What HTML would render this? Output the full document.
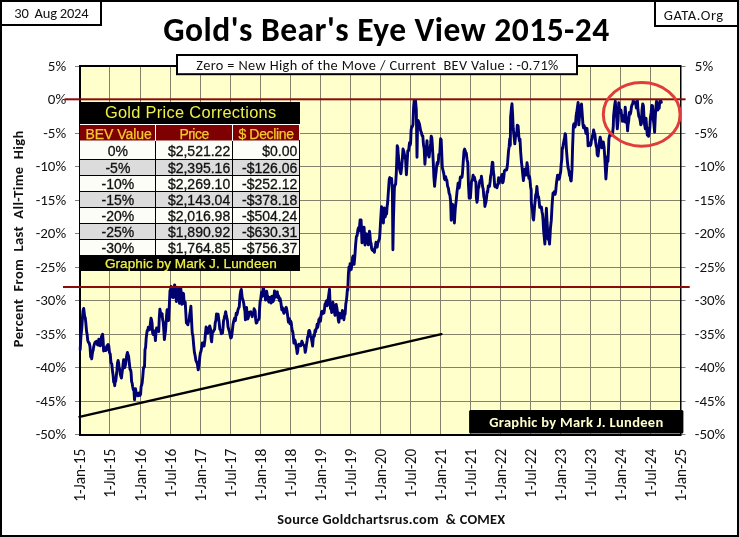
<!DOCTYPE html><html><head><meta charset="utf-8"><title>Gold's Bear's Eye View 2015-24</title><style>html,body{margin:0;padding:0;background:#fff;}svg{display:block;will-change:transform;}text{white-space:pre;}</style></head><body>
<svg width="739" height="537" viewBox="0 0 739 537" shape-rendering="auto">
<rect x="0" y="0" width="739" height="537" fill="#fff"/>
<rect x="80" y="66" width="600.5" height="368.5" fill="#ffffcc"/>
<path d="M109.5 66V434.5M140.5 66V434.5M170.5 66V434.5M200.5 66V434.5M230.5 66V434.5M260.5 66V434.5M290.5 66V434.5M320.5 66V434.5M350.5 66V434.5M380.5 66V434.5M410.5 66V434.5M440.5 66V434.5M470.5 66V434.5M500.5 66V434.5M530.5 66V434.5M560.5 66V434.5M590.5 66V434.5M620.5 66V434.5M650.5 66V434.5M80 99.5H680.5M80 133.5H680.5M80 166.5H680.5M80 200.5H680.5M80 233.5H680.5M80 267.5H680.5M80 300.5H680.5M80 334.5H680.5M80 367.5H680.5M80 401.5H680.5" stroke="#85826c" stroke-width="1" fill="none"/>
<path d="M75 66.5H80M681 66.5H685.5M75 99.5H80M681 99.5H685.5M75 133.5H80M681 133.5H685.5M75 166.5H80M681 166.5H685.5M75 200.5H80M681 200.5H685.5M75 233.5H80M681 233.5H685.5M75 267.5H80M681 267.5H685.5M75 300.5H80M681 300.5H685.5M75 334.5H80M681 334.5H685.5M75 367.5H80M681 367.5H685.5M75 401.5H80M681 401.5H685.5M75 434.5H80M681 434.5H685.5" stroke="#808080" stroke-width="1" fill="none"/>
<rect x="79" y="65" width="602" height="2" fill="#000"/>
<rect x="79" y="65" width="2" height="371" fill="#000"/>
<rect x="79" y="434" width="602" height="2" fill="#000"/>
<rect x="680" y="65" width="1.5" height="371" fill="#000"/>
<text x="66.2" y="70.9" font-family="Carlito, 'Liberation Sans', sans-serif" font-size="15" text-anchor="end" fill="#111" textLength="18.33" lengthAdjust="spacingAndGlyphs">5%</text>
<text x="694.8" y="70.9" font-family="Carlito, 'Liberation Sans', sans-serif" font-size="15" fill="#111" textLength="18.33" lengthAdjust="spacingAndGlyphs">5%</text>
<text x="66.2" y="104.4" font-family="Carlito, 'Liberation Sans', sans-serif" font-size="15" text-anchor="end" fill="#111" textLength="18.33" lengthAdjust="spacingAndGlyphs">0%</text>
<text x="694.8" y="104.4" font-family="Carlito, 'Liberation Sans', sans-serif" font-size="15" fill="#111" textLength="18.33" lengthAdjust="spacingAndGlyphs">0%</text>
<text x="66.2" y="137.9" font-family="Carlito, 'Liberation Sans', sans-serif" font-size="15" text-anchor="end" fill="#111" textLength="22.92" lengthAdjust="spacingAndGlyphs">-5%</text>
<text x="694.8" y="137.9" font-family="Carlito, 'Liberation Sans', sans-serif" font-size="15" fill="#111" textLength="22.92" lengthAdjust="spacingAndGlyphs">-5%</text>
<text x="66.2" y="171.4" font-family="Carlito, 'Liberation Sans', sans-serif" font-size="15" text-anchor="end" fill="#111" textLength="30.53" lengthAdjust="spacingAndGlyphs">-10%</text>
<text x="694.8" y="171.4" font-family="Carlito, 'Liberation Sans', sans-serif" font-size="15" fill="#111" textLength="30.53" lengthAdjust="spacingAndGlyphs">-10%</text>
<text x="66.2" y="204.9" font-family="Carlito, 'Liberation Sans', sans-serif" font-size="15" text-anchor="end" fill="#111" textLength="30.53" lengthAdjust="spacingAndGlyphs">-15%</text>
<text x="694.8" y="204.9" font-family="Carlito, 'Liberation Sans', sans-serif" font-size="15" fill="#111" textLength="30.53" lengthAdjust="spacingAndGlyphs">-15%</text>
<text x="66.2" y="238.4" font-family="Carlito, 'Liberation Sans', sans-serif" font-size="15" text-anchor="end" fill="#111" textLength="30.53" lengthAdjust="spacingAndGlyphs">-20%</text>
<text x="694.8" y="238.4" font-family="Carlito, 'Liberation Sans', sans-serif" font-size="15" fill="#111" textLength="30.53" lengthAdjust="spacingAndGlyphs">-20%</text>
<text x="66.2" y="271.9" font-family="Carlito, 'Liberation Sans', sans-serif" font-size="15" text-anchor="end" fill="#111" textLength="30.53" lengthAdjust="spacingAndGlyphs">-25%</text>
<text x="694.8" y="271.9" font-family="Carlito, 'Liberation Sans', sans-serif" font-size="15" fill="#111" textLength="30.53" lengthAdjust="spacingAndGlyphs">-25%</text>
<text x="66.2" y="305.4" font-family="Carlito, 'Liberation Sans', sans-serif" font-size="15" text-anchor="end" fill="#111" textLength="30.53" lengthAdjust="spacingAndGlyphs">-30%</text>
<text x="694.8" y="305.4" font-family="Carlito, 'Liberation Sans', sans-serif" font-size="15" fill="#111" textLength="30.53" lengthAdjust="spacingAndGlyphs">-30%</text>
<text x="66.2" y="338.9" font-family="Carlito, 'Liberation Sans', sans-serif" font-size="15" text-anchor="end" fill="#111" textLength="30.53" lengthAdjust="spacingAndGlyphs">-35%</text>
<text x="694.8" y="338.9" font-family="Carlito, 'Liberation Sans', sans-serif" font-size="15" fill="#111" textLength="30.53" lengthAdjust="spacingAndGlyphs">-35%</text>
<text x="66.2" y="372.4" font-family="Carlito, 'Liberation Sans', sans-serif" font-size="15" text-anchor="end" fill="#111" textLength="30.53" lengthAdjust="spacingAndGlyphs">-40%</text>
<text x="694.8" y="372.4" font-family="Carlito, 'Liberation Sans', sans-serif" font-size="15" fill="#111" textLength="30.53" lengthAdjust="spacingAndGlyphs">-40%</text>
<text x="66.2" y="405.9" font-family="Carlito, 'Liberation Sans', sans-serif" font-size="15" text-anchor="end" fill="#111" textLength="30.53" lengthAdjust="spacingAndGlyphs">-45%</text>
<text x="694.8" y="405.9" font-family="Carlito, 'Liberation Sans', sans-serif" font-size="15" fill="#111" textLength="30.53" lengthAdjust="spacingAndGlyphs">-45%</text>
<text x="66.2" y="439.4" font-family="Carlito, 'Liberation Sans', sans-serif" font-size="15" text-anchor="end" fill="#111" textLength="30.53" lengthAdjust="spacingAndGlyphs">-50%</text>
<text x="694.8" y="439.4" font-family="Carlito, 'Liberation Sans', sans-serif" font-size="15" fill="#111" textLength="30.53" lengthAdjust="spacingAndGlyphs">-50%</text>
<text transform="translate(85.4,448.8) rotate(-90)" font-family="Carlito, 'Liberation Sans', sans-serif" font-size="15.3" text-anchor="end" fill="#111" textLength="52.87" lengthAdjust="spacingAndGlyphs">1-Jan-15</text>
<text transform="translate(115.4,448.8) rotate(-90)" font-family="Carlito, 'Liberation Sans', sans-serif" font-size="15.3" text-anchor="end" fill="#111" textLength="49.05" lengthAdjust="spacingAndGlyphs">1-Jul-15</text>
<text transform="translate(146.4,448.8) rotate(-90)" font-family="Carlito, 'Liberation Sans', sans-serif" font-size="15.3" text-anchor="end" fill="#111" textLength="52.87" lengthAdjust="spacingAndGlyphs">1-Jan-16</text>
<text transform="translate(176.4,448.8) rotate(-90)" font-family="Carlito, 'Liberation Sans', sans-serif" font-size="15.3" text-anchor="end" fill="#111" textLength="49.05" lengthAdjust="spacingAndGlyphs">1-Jul-16</text>
<text transform="translate(206.4,448.8) rotate(-90)" font-family="Carlito, 'Liberation Sans', sans-serif" font-size="15.3" text-anchor="end" fill="#111" textLength="52.87" lengthAdjust="spacingAndGlyphs">1-Jan-17</text>
<text transform="translate(236.4,448.8) rotate(-90)" font-family="Carlito, 'Liberation Sans', sans-serif" font-size="15.3" text-anchor="end" fill="#111" textLength="49.05" lengthAdjust="spacingAndGlyphs">1-Jul-17</text>
<text transform="translate(266.4,448.8) rotate(-90)" font-family="Carlito, 'Liberation Sans', sans-serif" font-size="15.3" text-anchor="end" fill="#111" textLength="52.87" lengthAdjust="spacingAndGlyphs">1-Jan-18</text>
<text transform="translate(296.4,448.8) rotate(-90)" font-family="Carlito, 'Liberation Sans', sans-serif" font-size="15.3" text-anchor="end" fill="#111" textLength="49.05" lengthAdjust="spacingAndGlyphs">1-Jul-18</text>
<text transform="translate(326.4,448.8) rotate(-90)" font-family="Carlito, 'Liberation Sans', sans-serif" font-size="15.3" text-anchor="end" fill="#111" textLength="52.87" lengthAdjust="spacingAndGlyphs">1-Jan-19</text>
<text transform="translate(356.4,448.8) rotate(-90)" font-family="Carlito, 'Liberation Sans', sans-serif" font-size="15.3" text-anchor="end" fill="#111" textLength="49.05" lengthAdjust="spacingAndGlyphs">1-Jul-19</text>
<text transform="translate(386.4,448.8) rotate(-90)" font-family="Carlito, 'Liberation Sans', sans-serif" font-size="15.3" text-anchor="end" fill="#111" textLength="52.87" lengthAdjust="spacingAndGlyphs">1-Jan-20</text>
<text transform="translate(416.4,448.8) rotate(-90)" font-family="Carlito, 'Liberation Sans', sans-serif" font-size="15.3" text-anchor="end" fill="#111" textLength="49.05" lengthAdjust="spacingAndGlyphs">1-Jul-20</text>
<text transform="translate(446.4,448.8) rotate(-90)" font-family="Carlito, 'Liberation Sans', sans-serif" font-size="15.3" text-anchor="end" fill="#111" textLength="52.87" lengthAdjust="spacingAndGlyphs">1-Jan-21</text>
<text transform="translate(476.4,448.8) rotate(-90)" font-family="Carlito, 'Liberation Sans', sans-serif" font-size="15.3" text-anchor="end" fill="#111" textLength="49.05" lengthAdjust="spacingAndGlyphs">1-Jul-21</text>
<text transform="translate(506.4,448.8) rotate(-90)" font-family="Carlito, 'Liberation Sans', sans-serif" font-size="15.3" text-anchor="end" fill="#111" textLength="52.87" lengthAdjust="spacingAndGlyphs">1-Jan-22</text>
<text transform="translate(536.4,448.8) rotate(-90)" font-family="Carlito, 'Liberation Sans', sans-serif" font-size="15.3" text-anchor="end" fill="#111" textLength="49.05" lengthAdjust="spacingAndGlyphs">1-Jul-22</text>
<text transform="translate(566.4,448.8) rotate(-90)" font-family="Carlito, 'Liberation Sans', sans-serif" font-size="15.3" text-anchor="end" fill="#111" textLength="52.87" lengthAdjust="spacingAndGlyphs">1-Jan-23</text>
<text transform="translate(596.4,448.8) rotate(-90)" font-family="Carlito, 'Liberation Sans', sans-serif" font-size="15.3" text-anchor="end" fill="#111" textLength="49.05" lengthAdjust="spacingAndGlyphs">1-Jul-23</text>
<text transform="translate(626.4,448.8) rotate(-90)" font-family="Carlito, 'Liberation Sans', sans-serif" font-size="15.3" text-anchor="end" fill="#111" textLength="52.87" lengthAdjust="spacingAndGlyphs">1-Jan-24</text>
<text transform="translate(656.4,448.8) rotate(-90)" font-family="Carlito, 'Liberation Sans', sans-serif" font-size="15.3" text-anchor="end" fill="#111" textLength="49.05" lengthAdjust="spacingAndGlyphs">1-Jul-24</text>
<text transform="translate(686.4,448.8) rotate(-90)" font-family="Carlito, 'Liberation Sans', sans-serif" font-size="15.3" text-anchor="end" fill="#111" textLength="52.87" lengthAdjust="spacingAndGlyphs">1-Jan-25</text>
<rect x="79" y="102" width="221" height="22" fill="#000"/>
<rect x="80" y="124" width="220" height="17" fill="#fff"/>
<rect x="80" y="125" width="75" height="15.5" fill="#7f0000"/>
<rect x="156" y="125" width="76" height="15.5" fill="#7f0000"/>
<rect x="233" y="125" width="66" height="15.5" fill="#7f0000"/>
<rect x="80" y="141" width="220" height="18" fill="#fdfdf8"/>
<rect x="81" y="159" width="219" height="1" fill="#000"/>
<rect x="80" y="160" width="220" height="15" fill="#dcdcdc"/>
<rect x="81" y="175" width="219" height="1" fill="#000"/>
<rect x="80" y="176" width="220" height="15" fill="#fdfdf8"/>
<rect x="81" y="191" width="219" height="1" fill="#000"/>
<rect x="80" y="192" width="220" height="15" fill="#dcdcdc"/>
<rect x="81" y="207" width="219" height="1" fill="#000"/>
<rect x="80" y="208" width="220" height="15" fill="#fdfdf8"/>
<rect x="81" y="223" width="219" height="1" fill="#000"/>
<rect x="80" y="224" width="220" height="15" fill="#dcdcdc"/>
<rect x="81" y="239" width="219" height="1" fill="#000"/>
<rect x="80" y="240" width="220" height="15" fill="#fdfdf8"/>
<rect x="79" y="140" width="1" height="116" fill="#000"/>
<rect x="299" y="140" width="1" height="116" fill="#000"/>
<rect x="155" y="141" width="1" height="115" fill="#000"/>
<rect x="232" y="141" width="1" height="115" fill="#000"/>
<rect x="79" y="255" width="221" height="16" fill="#000"/>
<text x="104.9" y="118.4" font-family="'Liberation Sans', Arial, sans-serif" font-size="16.4" fill="#eef04a" textLength="171.3" lengthAdjust="spacing">Gold Price Corrections</text>
<text x="85.4" y="139" font-family="'Liberation Sans', Arial, sans-serif" font-size="14" fill="#f5c830" stroke="#f5c830" stroke-width="0.25" textLength="66.5" lengthAdjust="spacing">BEV Value</text>
<text x="179.4" y="139" font-family="'Liberation Sans', Arial, sans-serif" font-size="14" fill="#f5c830" stroke="#f5c830" stroke-width="0.25" textLength="29.8" lengthAdjust="spacing">Price</text>
<text x="238.4" y="139" font-family="'Liberation Sans', Arial, sans-serif" font-size="14" fill="#f5c830" stroke="#f5c830" stroke-width="0.25" textLength="55.6" lengthAdjust="spacing">$ Decline</text>
<text x="117.9" y="155.7" font-family="'Liberation Sans', Arial, sans-serif" font-size="14" text-anchor="middle" fill="#111" stroke="#111" stroke-width="0.3">0%</text>
<text x="230.2" y="155.7" font-family="'Liberation Sans', Arial, sans-serif" font-size="14" text-anchor="end" fill="#111" stroke="#111" stroke-width="0.3">$2,521.22</text>
<text x="297.3" y="155.7" font-family="'Liberation Sans', Arial, sans-serif" font-size="14" text-anchor="end" fill="#111" stroke="#111" stroke-width="0.3">$0.00</text>
<text x="117.9" y="172.6" font-family="'Liberation Sans', Arial, sans-serif" font-size="14" text-anchor="middle" fill="#111" stroke="#111" stroke-width="0.3">-5%</text>
<text x="230.2" y="172.6" font-family="'Liberation Sans', Arial, sans-serif" font-size="14" text-anchor="end" fill="#111" stroke="#111" stroke-width="0.3">$2,395.16</text>
<text x="297.3" y="172.6" font-family="'Liberation Sans', Arial, sans-serif" font-size="14" text-anchor="end" fill="#111" stroke="#111" stroke-width="0.3">-$126.06</text>
<text x="117.9" y="188.7" font-family="'Liberation Sans', Arial, sans-serif" font-size="14" text-anchor="middle" fill="#111" stroke="#111" stroke-width="0.3">-10%</text>
<text x="230.2" y="188.7" font-family="'Liberation Sans', Arial, sans-serif" font-size="14" text-anchor="end" fill="#111" stroke="#111" stroke-width="0.3">$2,269.10</text>
<text x="297.3" y="188.7" font-family="'Liberation Sans', Arial, sans-serif" font-size="14" text-anchor="end" fill="#111" stroke="#111" stroke-width="0.3">-$252.12</text>
<text x="117.9" y="204.9" font-family="'Liberation Sans', Arial, sans-serif" font-size="14" text-anchor="middle" fill="#111" stroke="#111" stroke-width="0.3">-15%</text>
<text x="230.2" y="204.9" font-family="'Liberation Sans', Arial, sans-serif" font-size="14" text-anchor="end" fill="#111" stroke="#111" stroke-width="0.3">$2,143.04</text>
<text x="297.3" y="204.9" font-family="'Liberation Sans', Arial, sans-serif" font-size="14" text-anchor="end" fill="#111" stroke="#111" stroke-width="0.3">-$378.18</text>
<text x="117.9" y="221.0" font-family="'Liberation Sans', Arial, sans-serif" font-size="14" text-anchor="middle" fill="#111" stroke="#111" stroke-width="0.3">-20%</text>
<text x="230.2" y="221.0" font-family="'Liberation Sans', Arial, sans-serif" font-size="14" text-anchor="end" fill="#111" stroke="#111" stroke-width="0.3">$2,016.98</text>
<text x="297.3" y="221.0" font-family="'Liberation Sans', Arial, sans-serif" font-size="14" text-anchor="end" fill="#111" stroke="#111" stroke-width="0.3">-$504.24</text>
<text x="117.9" y="236.9" font-family="'Liberation Sans', Arial, sans-serif" font-size="14" text-anchor="middle" fill="#111" stroke="#111" stroke-width="0.3">-25%</text>
<text x="230.2" y="236.9" font-family="'Liberation Sans', Arial, sans-serif" font-size="14" text-anchor="end" fill="#111" stroke="#111" stroke-width="0.3">$1,890.92</text>
<text x="297.3" y="236.9" font-family="'Liberation Sans', Arial, sans-serif" font-size="14" text-anchor="end" fill="#111" stroke="#111" stroke-width="0.3">-$630.31</text>
<text x="117.9" y="252.6" font-family="'Liberation Sans', Arial, sans-serif" font-size="14" text-anchor="middle" fill="#111" stroke="#111" stroke-width="0.3">-30%</text>
<text x="230.2" y="252.6" font-family="'Liberation Sans', Arial, sans-serif" font-size="14" text-anchor="end" fill="#111" stroke="#111" stroke-width="0.3">$1,764.85</text>
<text x="297.3" y="252.6" font-family="'Liberation Sans', Arial, sans-serif" font-size="14" text-anchor="end" fill="#111" stroke="#111" stroke-width="0.3">-$756.37</text>
<text x="104.9" y="268.4" font-family="'Liberation Sans', Arial, sans-serif" font-size="13.6" fill="#eef04a" stroke="#eef04a" stroke-width="0.25" textLength="171.8" lengthAdjust="spacing">Graphic by Mark J. Lundeen</text>
<line x1="79.5" y1="416.8" x2="441.4" y2="334.1" stroke="#000" stroke-width="2.4" stroke-linecap="round"/>
<path d="M80.2 349.7 L81.0 335.5 L81.8 328.4 L82.5 316.7 L83.1 310.3 L83.7 308.4 L84.2 312.6 L84.7 316.9 L85.2 317.5 L85.7 321.7 L86.6 331.6 L87.2 334.9 L87.7 340.2 L88.5 342.4 L89.2 342.9 L90.0 346.6 L90.7 356.9 L91.2 356.5 L91.7 358.9 L92.6 351.8 L93.1 350.5 L93.6 347.3 L94.3 344.2 L95.1 342.3 L95.8 341.7 L96.6 341.3 L97.3 344.5 L98.1 345.1 L98.8 339.1 L99.6 342.0 L100.3 345.8 L100.9 343.2 L101.5 336.4 L102.0 337.1 L102.6 334.1 L103.1 340.1 L103.6 351.0 L104.2 347.6 L104.8 350.6 L105.4 347.7 L106.0 350.5 L106.5 349.8 L107.0 345.6 L107.5 345.6 L108.1 344.5 L108.8 345.9 L109.5 352.6 L110.2 353.9 L111.0 362.8 L111.8 364.1 L112.5 371.1 L113.1 375.2 L113.7 382.2 L114.2 381.1 L114.7 385.7 L115.2 381.3 L115.7 381.3 L116.3 376.0 L116.9 370.4 L117.5 362.9 L118.1 360.5 L118.7 363.4 L119.2 368.9 L119.7 368.8 L120.2 373.8 L120.8 376.1 L121.4 378.0 L122.0 373.3 L122.6 368.7 L123.1 364.0 L123.6 359.8 L124.2 363.1 L124.7 367.7 L125.6 364.1 L126.1 359.7 L126.6 356.1 L127.4 352.5 L128.0 354.5 L128.5 355.6 L129.2 361.8 L130.0 369.3 L130.6 369.8 L131.1 372.7 L131.6 381.7 L132.1 382.9 L132.7 386.8 L133.3 389.8 L133.9 389.3 L134.5 399.7 L135.0 395.9 L135.5 388.8 L136.1 392.3 L136.6 394.1 L137.2 393.3 L137.8 395.9 L138.4 394.2 L139.0 393.0 L139.5 394.7 L140.0 395.5 L140.6 394.2 L141.1 386.5 L141.6 385.3 L142.2 382.7 L142.8 376.3 L143.4 368.8 L143.9 367.0 L144.5 366.7 L145.0 349.6 L145.6 347.5 L146.2 338.1 L146.7 334.0 L147.2 330.4 L147.8 330.5 L148.3 327.1 L148.9 329.1 L149.5 329.7 L150.2 325.2 L151.0 318.2 L151.6 320.2 L152.1 323.4 L152.6 332.9 L153.2 334.5 L153.7 330.6 L154.2 331.0 L154.8 332.6 L155.4 340.6 L156.0 332.2 L156.6 328.0 L157.1 328.2 L157.7 327.9 L158.2 329.7 L158.7 331.6 L159.3 317.3 L159.9 309.1 L160.5 312.5 L161.1 315.7 L161.6 316.6 L162.1 313.7 L162.6 319.5 L163.2 322.2 L163.8 330.0 L164.4 339.6 L164.9 335.2 L165.5 331.1 L166.1 321.8 L166.6 315.1 L167.1 309.8 L167.6 312.6 L168.1 318.6 L168.5 320.5 L169.3 305.9 L170.0 290.6 L170.6 289.5 L171.1 286.4 L171.6 295.1 L172.1 296.3 L172.6 297.3 L173.0 296.9 L173.5 297.5 L174.0 289.7 L174.6 284.9 L175.1 287.1 L175.7 287.7 L176.3 301.5 L176.9 296.3 L177.5 292.3 L178.0 291.9 L178.5 288.9 L179.0 298.9 L179.5 303.3 L180.1 299.9 L180.7 287.5 L181.3 294.3 L181.9 304.3 L182.4 302.5 L183.0 293.2 L183.5 293.6 L184.0 300.5 L184.6 303.6 L185.2 302.1 L185.8 312.5 L186.4 322.9 L186.9 322.6 L187.4 324.2 L187.9 324.7 L188.5 320.6 L189.1 321.1 L189.7 315.0 L190.3 311.1 L190.9 306.2 L191.5 318.7 L192.2 332.8 L192.9 335.9 L193.7 345.3 L194.4 352.3 L195.2 356.0 L195.9 360.6 L196.7 362.2 L197.4 364.2 L198.2 369.9 L198.7 366.9 L199.2 363.0 L199.8 357.0 L200.4 352.7 L201.0 351.3 L201.6 347.8 L202.3 342.9 L203.1 343.0 L203.6 343.4 L204.1 346.1 L204.9 340.0 L205.5 333.1 L206.1 326.9 L206.6 333.5 L207.1 332.9 L207.8 333.0 L208.6 328.0 L209.1 327.7 L209.7 325.9 L210.5 328.8 L211.1 338.7 L211.6 341.9 L212.1 336.2 L212.6 331.5 L213.2 331.9 L213.8 330.4 L214.6 329.3 L215.3 322.3 L215.9 320.5 L216.5 314.0 L217.0 315.1 L217.5 314.4 L218.1 314.2 L218.6 318.1 L219.2 322.9 L219.8 329.0 L220.6 330.0 L221.3 333.7 L221.9 330.7 L222.5 333.1 L223.0 328.2 L223.5 321.1 L224.0 319.1 L224.5 316.7 L225.1 314.6 L225.7 311.6 L226.3 315.6 L226.9 318.0 L227.4 320.4 L228.0 326.9 L228.5 328.5 L229.0 330.3 L229.6 332.4 L230.2 335.8 L230.8 338.0 L231.4 337.5 L231.9 334.4 L232.4 330.3 L232.9 325.3 L233.5 321.9 L234.1 319.8 L234.7 318.1 L235.4 320.7 L236.2 313.2 L236.8 314.9 L237.3 313.3 L237.9 309.9 L238.6 308.0 L239.2 307.1 L239.7 300.2 L240.2 294.2 L240.8 290.8 L241.3 289.4 L242.2 297.6 L242.7 299.1 L243.2 300.8 L243.8 303.8 L244.3 307.7 L244.9 310.9 L245.4 319.8 L246.0 314.1 L246.6 307.5 L247.1 316.8 L247.7 318.9 L248.2 318.1 L248.7 315.7 L249.3 312.3 L249.9 312.9 L250.7 311.7 L251.4 313.6 L252.2 316.7 L252.9 313.2 L253.5 314.0 L254.1 308.8 L254.6 309.8 L255.1 310.9 L255.6 318.7 L256.2 323.1 L256.8 322.7 L257.4 320.9 L257.9 320.0 L258.5 319.7 L259.1 318.1 L259.6 308.4 L260.1 301.3 L260.6 300.2 L261.5 292.1 L262.1 296.6 L262.6 293.3 L263.1 288.0 L263.6 288.6 L264.5 295.9 L265.0 295.0 L265.5 300.1 L266.1 295.7 L266.6 291.3 L267.2 294.6 L267.8 296.6 L268.4 300.6 L269.0 302.1 L269.5 297.4 L270.0 298.6 L270.6 300.1 L271.1 303.0 L271.6 296.4 L272.2 296.3 L272.8 301.8 L273.4 300.9 L273.9 299.2 L274.5 290.9 L275.0 295.1 L275.5 297.2 L276.1 294.0 L276.7 292.5 L277.3 291.8 L277.9 297.6 L278.4 295.6 L278.9 296.6 L279.4 300.6 L280.0 298.3 L280.6 300.6 L281.2 305.0 L281.8 309.9 L282.4 307.5 L282.9 309.7 L283.4 311.8 L283.9 313.3 L284.4 312.4 L285.0 309.5 L285.6 308.3 L286.2 307.4 L286.8 309.6 L287.4 313.8 L287.9 317.8 L288.4 322.1 L288.9 321.2 L289.4 318.6 L290.0 323.8 L290.6 321.0 L291.2 322.4 L291.7 326.9 L292.2 330.4 L292.8 331.9 L293.3 336.1 L293.9 343.0 L294.5 339.7 L295.1 340.5 L295.7 343.9 L296.2 346.6 L296.7 349.5 L297.2 353.5 L297.7 351.3 L298.1 347.2 L298.6 344.4 L299.1 344.1 L299.7 344.5 L300.2 345.4 L300.7 345.8 L301.3 343.8 L301.9 341.2 L302.5 342.8 L303.1 344.6 L303.6 344.9 L304.1 345.7 L304.6 346.8 L305.2 352.4 L305.6 350.6 L306.1 347.3 L306.6 343.9 L307.1 340.8 L307.6 336.8 L308.2 335.6 L308.8 330.7 L309.4 330.4 L309.9 331.7 L310.5 336.8 L311.1 336.9 L311.6 339.7 L312.1 342.4 L312.6 346.1 L313.2 339.0 L313.8 334.9 L314.4 336.1 L315.0 330.5 L315.6 331.7 L316.1 328.6 L316.6 328.5 L317.1 324.3 L317.7 327.4 L318.3 324.3 L318.9 319.4 L319.5 321.7 L320.0 317.8 L320.5 321.1 L321.1 315.0 L321.6 311.6 L322.2 311.2 L322.8 313.7 L323.4 311.7 L323.9 312.9 L324.4 310.1 L325.0 304.1 L325.5 304.3 L326.0 301.8 L326.6 300.8 L327.2 305.7 L327.8 302.3 L328.4 297.4 L328.9 293.6 L329.5 289.3 L330.0 301.5 L330.5 308.6 L331.1 307.5 L331.7 312.5 L332.3 304.7 L332.9 302.2 L333.4 305.3 L333.9 308.1 L334.4 311.7 L335.0 315.3 L335.6 308.0 L336.2 304.5 L336.8 307.5 L337.3 311.0 L337.9 315.9 L338.4 320.6 L338.9 322.2 L339.4 313.1 L340.0 316.2 L340.6 314.4 L341.2 318.0 L341.8 314.7 L342.4 310.4 L342.9 315.1 L343.4 315.3 L343.9 319.7 L344.5 314.5 L345.1 314.2 L345.8 304.0 L346.4 300.4 L346.9 295.6 L347.4 289.3 L347.8 290.1 L348.4 274.1 L349.0 266.9 L349.6 270.4 L350.1 263.6 L350.6 267.8 L351.2 269.5 L351.7 265.0 L352.2 263.5 L352.6 257.3 L353.1 256.1 L353.6 257.8 L354.1 264.3 L354.9 255.6 L355.6 244.8 L356.4 236.4 L357.1 235.7 L357.9 229.7 L358.5 227.7 L359.1 231.0 L359.6 225.7 L360.1 219.9 L360.6 222.8 L361.1 220.0 L362.0 242.9 L362.6 234.8 L363.1 232.2 L363.6 227.2 L364.1 227.4 L365.0 245.0 L365.6 241.4 L366.1 235.9 L366.6 233.8 L367.1 235.5 L367.7 241.3 L368.3 244.8 L368.9 237.2 L369.5 231.2 L370.0 235.3 L370.5 241.8 L371.1 243.5 L371.6 248.6 L372.2 249.9 L372.8 250.5 L373.4 249.9 L373.9 250.8 L374.4 252.3 L375.0 247.8 L375.5 245.5 L376.0 242.1 L376.6 246.2 L377.2 247.1 L377.8 243.1 L378.4 241.4 L378.9 239.9 L379.5 238.8 L380.1 230.2 L380.6 221.0 L381.5 206.7 L382.0 209.6 L382.5 211.0 L383.4 223.0 L383.9 212.2 L384.3 207.9 L385.2 217.0 L385.9 212.7 L386.6 213.9 L387.1 206.8 L387.7 202.0 L388.4 191.4 L389.2 179.5 L389.8 177.6 L390.3 182.1 L391.0 179.6 L391.6 178.6 L392.4 192.3 L392.9 249.7 L393.5 217.5 L394.4 187.9 L395.0 184.8 L395.6 184.5 L396.3 173.2 L397.0 153.9 L397.2 145.7 L397.8 147.5 L398.3 155.5 L398.9 161.0 L399.5 168.8 L400.4 172.3 L400.9 173.7 L401.5 168.4 L402.3 159.4 L403.0 149.0 L403.9 151.8 L404.4 154.4 L404.8 156.7 L405.6 159.5 L406.4 174.7 L407.1 162.8 L407.8 150.6 L408.6 150.5 L409.5 142.8 L410.1 145.3 L410.6 142.9 L411.1 130.1 L411.8 126.4 L412.4 126.6 L413.0 124.3 L413.6 107.4 L414.2 100.4 L414.8 100.4 L415.5 100.4 L416.3 109.7 L417.0 157.2 L417.5 126.4 L418.1 120.5 L418.9 122.4 L419.4 123.7 L420.0 127.0 L420.7 130.9 L421.4 132.5 L422.1 135.8 L422.8 136.0 L423.5 145.0 L424.2 148.6 L424.9 164.2 L425.4 156.6 L425.9 151.4 L426.4 148.2 L427.0 140.6 L427.6 152.7 L428.1 153.8 L428.6 155.7 L429.1 157.0 L430.0 148.9 L430.6 143.9 L431.2 136.1 L431.8 137.7 L432.3 144.3 L433.2 160.9 L433.9 177.1 L434.6 186.4 L435.1 180.5 L435.6 175.8 L436.1 172.0 L436.7 165.4 L437.2 162.4 L437.8 164.3 L438.3 162.0 L438.8 154.5 L439.3 154.8 L439.8 153.2 L440.6 138.8 L441.2 139.7 L441.6 149.7 L442.3 167.3 L443.2 171.1 L443.8 173.6 L444.4 178.6 L445.0 179.7 L445.6 176.6 L446.2 179.3 L446.9 180.4 L447.6 186.3 L448.4 188.3 L449.1 193.3 L449.9 195.3 L450.6 201.0 L451.2 220.2 L451.8 212.0 L452.3 204.2 L453.2 205.5 L453.8 215.9 L454.4 223.0 L454.9 214.5 L455.3 208.4 L456.2 200.4 L457.0 191.9 L457.6 187.4 L458.1 183.1 L458.6 185.2 L459.1 188.1 L459.7 184.2 L460.3 177.0 L460.9 176.7 L461.5 177.5 L462.0 177.1 L462.5 173.0 L463.3 160.8 L464.0 151.1 L464.6 149.1 L465.1 150.5 L465.7 152.4 L466.3 153.1 L467.0 159.2 L467.8 162.9 L468.5 185.2 L469.2 198.2 L469.8 198.0 L470.4 197.9 L470.9 190.4 L471.5 181.5 L472.0 180.8 L472.5 179.7 L473.1 175.3 L473.7 177.9 L474.3 176.9 L474.9 179.4 L475.4 181.2 L475.9 182.0 L476.4 198.1 L477.0 202.3 L477.6 198.1 L478.2 188.3 L478.8 187.3 L479.4 183.1 L479.9 180.5 L480.4 180.4 L480.9 182.4 L481.4 176.3 L482.0 180.8 L482.6 186.7 L483.2 189.0 L483.8 196.4 L484.4 198.9 L484.9 206.5 L485.4 203.7 L485.9 202.4 L486.5 198.1 L487.1 191.8 L487.7 191.9 L488.3 185.9 L488.9 186.7 L489.5 186.4 L490.1 181.9 L490.6 176.2 L491.2 173.8 L491.8 166.8 L492.3 162.3 L492.8 162.4 L493.4 172.0 L493.9 174.9 L494.7 186.1 L495.2 186.7 L495.7 185.2 L496.3 186.3 L496.9 187.8 L497.5 185.7 L498.1 182.7 L498.6 177.7 L499.1 183.2 L499.6 180.3 L500.2 178.0 L500.6 181.0 L501.1 179.7 L501.6 175.7 L502.1 174.4 L502.6 182.8 L503.2 181.6 L503.8 177.4 L504.4 170.8 L504.9 170.4 L505.5 169.8 L506.1 169.6 L506.6 169.9 L507.1 167.6 L507.6 162.9 L508.5 151.3 L509.1 146.9 L509.7 138.9 L510.3 145.5 L510.6 117.3 L511.4 108.3 L512.0 103.8 L512.6 114.0 L513.2 128.2 L514.0 136.0 L514.8 143.9 L515.5 136.5 L516.3 135.6 L516.8 132.5 L517.3 125.2 L518.1 125.8 L518.9 137.1 L519.5 141.0 L520.0 139.2 L520.7 152.5 L521.5 162.6 L522.0 166.6 L522.5 171.9 L523.4 180.5 L524.0 174.8 L524.9 169.3 L525.4 170.7 L525.9 175.0 L526.5 169.8 L527.0 162.8 L527.9 168.4 L528.4 175.2 L528.9 178.3 L529.5 176.3 L530.0 179.9 L530.6 186.9 L531.2 190.3 L531.3 202.3 L531.8 206.9 L532.4 209.7 L533.0 218.2 L533.6 220.0 L534.2 211.7 L534.7 205.2 L535.2 200.4 L535.7 194.8 L536.3 193.3 L536.9 186.5 L537.5 193.6 L538.1 197.2 L538.6 196.8 L539.1 201.0 L539.7 207.4 L540.2 207.2 L540.8 207.9 L541.4 207.0 L542.0 211.8 L542.6 214.6 L543.1 220.8 L543.6 230.3 L544.2 236.7 L544.9 244.0 L545.7 223.3 L546.4 208.2 L546.9 218.7 L547.4 227.3 L548.0 239.3 L548.5 238.4 L549.0 238.8 L549.5 244.1 L550.0 236.6 L550.5 227.5 L551.3 220.2 L552.1 204.8 L553.0 193.2 L553.5 193.6 L554.0 192.0 L554.5 191.5 L555.1 194.4 L555.7 191.5 L556.3 184.5 L557.0 178.9 L557.6 175.1 L558.3 177.5 L558.9 179.3 L559.6 177.6 L560.1 174.4 L560.7 171.6 L561.2 164.0 L561.8 159.3 L562.3 148.0 L562.8 148.1 L563.2 144.7 L563.9 140.9 L564.6 137.2 L565.1 133.8 L565.6 134.4 L566.5 150.5 L567.4 161.6 L568.1 167.8 L568.8 170.4 L569.5 175.4 L570.2 176.5 L570.7 180.4 L571.2 181.0 L572.0 169.4 L572.6 146.7 L573.4 125.7 L573.9 123.9 L574.4 123.7 L575.0 127.0 L575.5 124.9 L576.1 116.1 L576.7 112.6 L577.3 108.1 L578.1 102.4 L578.8 124.9 L579.6 115.3 L580.1 112.7 L580.6 106.0 L581.5 104.1 L582.1 112.3 L583.0 125.1 L583.5 127.8 L584.0 125.4 L584.8 127.9 L585.4 130.5 L586.0 133.4 L586.5 130.6 L587.0 128.3 L587.5 133.8 L588.1 145.9 L588.7 142.8 L589.2 143.4 L589.8 143.6 L590.4 145.6 L591.0 143.8 L591.5 139.6 L592.0 139.6 L592.5 135.4 L593.1 134.9 L593.6 130.0 L594.1 132.5 L594.9 134.4 L595.6 141.7 L596.3 146.5 L596.8 147.6 L597.2 154.7 L598.0 156.1 L598.7 150.1 L599.4 141.4 L600.2 137.2 L601.0 140.5 L601.8 147.8 L602.5 143.1 L603.3 142.0 L604.1 147.3 L604.8 157.9 L605.3 167.8 L605.9 179.0 L606.4 172.0 L606.9 164.7 L607.4 156.6 L607.9 161.5 L608.4 151.6 L608.9 138.7 L609.6 135.5 L610.5 134.0 L611.0 134.4 L611.5 135.0 L612.0 135.3 L612.5 134.3 L613.3 126.2 L613.6 115.9 L614.5 106.8 L615.3 101.1 L615.9 110.8 L616.6 117.4 L617.3 128.8 L618.1 120.2 L618.7 102.7 L619.4 109.1 L620.1 112.6 L621.0 110.1 L621.8 116.7 L622.4 121.2 L623.1 120.3 L623.8 115.5 L624.6 121.7 L625.2 107.2 L625.9 115.3 L626.6 122.9 L627.1 123.2 L627.6 130.8 L628.0 125.1 L628.7 120.9 L629.4 112.5 L630.2 114.5 L630.8 112.2 L631.5 106.5 L632.2 104.4 L632.7 104.0 L633.2 100.8 L634.1 102.4 L634.8 102.8 L635.5 102.1 L636.4 108.1 L636.9 102.3 L637.4 100.4 L638.0 110.0 L638.8 116.3 L639.5 117.3 L640.2 120.8 L640.8 124.7 L641.4 123.7 L642.0 109.8 L642.7 103.9 L643.4 105.7 L643.9 115.4 L644.5 124.0 L645.3 128.8 L646.0 118.2 L646.7 128.2 L647.3 135.0 L647.9 128.3 L648.5 136.4 L649.2 133.3 L649.8 128.1 L650.4 117.5 L651.1 112.9 L651.8 105.5 L652.5 105.6 L653.2 119.6 L653.9 123.8 L654.6 132.2 L655.1 121.2 L655.7 109.7 L656.5 101.3 L657.2 105.6 L657.9 110.0 L658.8 105.5 L659.2 108.2 L659.7 101.9 L660.2 100.4 L660.7 100.4 L661.3 102.3" stroke="#000070" stroke-width="2.9" fill="none" stroke-linejoin="round" stroke-linecap="round"/>
<rect x="64.5" y="98.3" width="621" height="2" fill="#8b0a0a"/>
<rect x="63" y="286" width="626.7" height="2" fill="#8b0a0a"/>
<rect x="469.1" y="410" width="214.3" height="23.5" rx="1.5" fill="#000"/>
<text x="489.2" y="426.6" font-family="Carlito, 'Liberation Sans', sans-serif" font-size="14.5" font-weight="bold" fill="#ffffcc" textLength="174" lengthAdjust="spacing">Graphic by Mark J. Lundeen</text>
<ellipse cx="641.7" cy="114.4" rx="38.4" ry="31.8" fill="none" stroke="#e03c3c" stroke-width="3.0"/>
<rect x="100" y="0" width="2" height="26" fill="#000"/>
<rect x="0" y="24" width="102" height="2" fill="#000"/>
<text x="14.3" y="17.9" font-family="Carlito, 'Liberation Sans', sans-serif" font-size="14.5" fill="#111" textLength="74.2" lengthAdjust="spacing">30  Aug 2024</text>
<rect x="654" y="0" width="2" height="27" fill="#000"/>
<rect x="654" y="25" width="85" height="2" fill="#000"/>
<text x="663.8" y="19.5" font-family="Carlito, 'Liberation Sans', sans-serif" font-size="14.5" fill="#111" textLength="59.3" lengthAdjust="spacing">GATA.Org</text>
<text x="163.2" y="41.1" font-family="Carlito, 'Liberation Sans', sans-serif" font-size="33.5" font-weight="bold" fill="#000" textLength="446.1" lengthAdjust="spacing">Gold's Bear's Eye View 2015-24</text>
<rect x="177" y="55" width="400" height="19.2" fill="#fff" stroke="#000" stroke-width="2"/>
<text x="196.3" y="69.8" font-family="Carlito, 'Liberation Sans', sans-serif" font-size="14.3" fill="#111" textLength="362" lengthAdjust="spacing">Zero = New High of the Move / Current  BEV Value : -0.71%</text>
<text transform="translate(22.8,347.2) rotate(-90)" font-family="Carlito, 'Liberation Sans', sans-serif" font-size="14.5" font-weight="bold" fill="#111" textLength="216.5" lengthAdjust="spacing">Percent  From  Last  All-Time  High</text>
<text x="277.2" y="524" font-family="Carlito, 'Liberation Sans', sans-serif" font-size="14.3" font-weight="bold" fill="#111" textLength="228" lengthAdjust="spacing">Source Goldchartsrus.com  &amp; COMEX</text>
<rect x="1" y="1" width="737" height="535" fill="none" stroke="#000" stroke-width="2"/>
</svg></body></html>
